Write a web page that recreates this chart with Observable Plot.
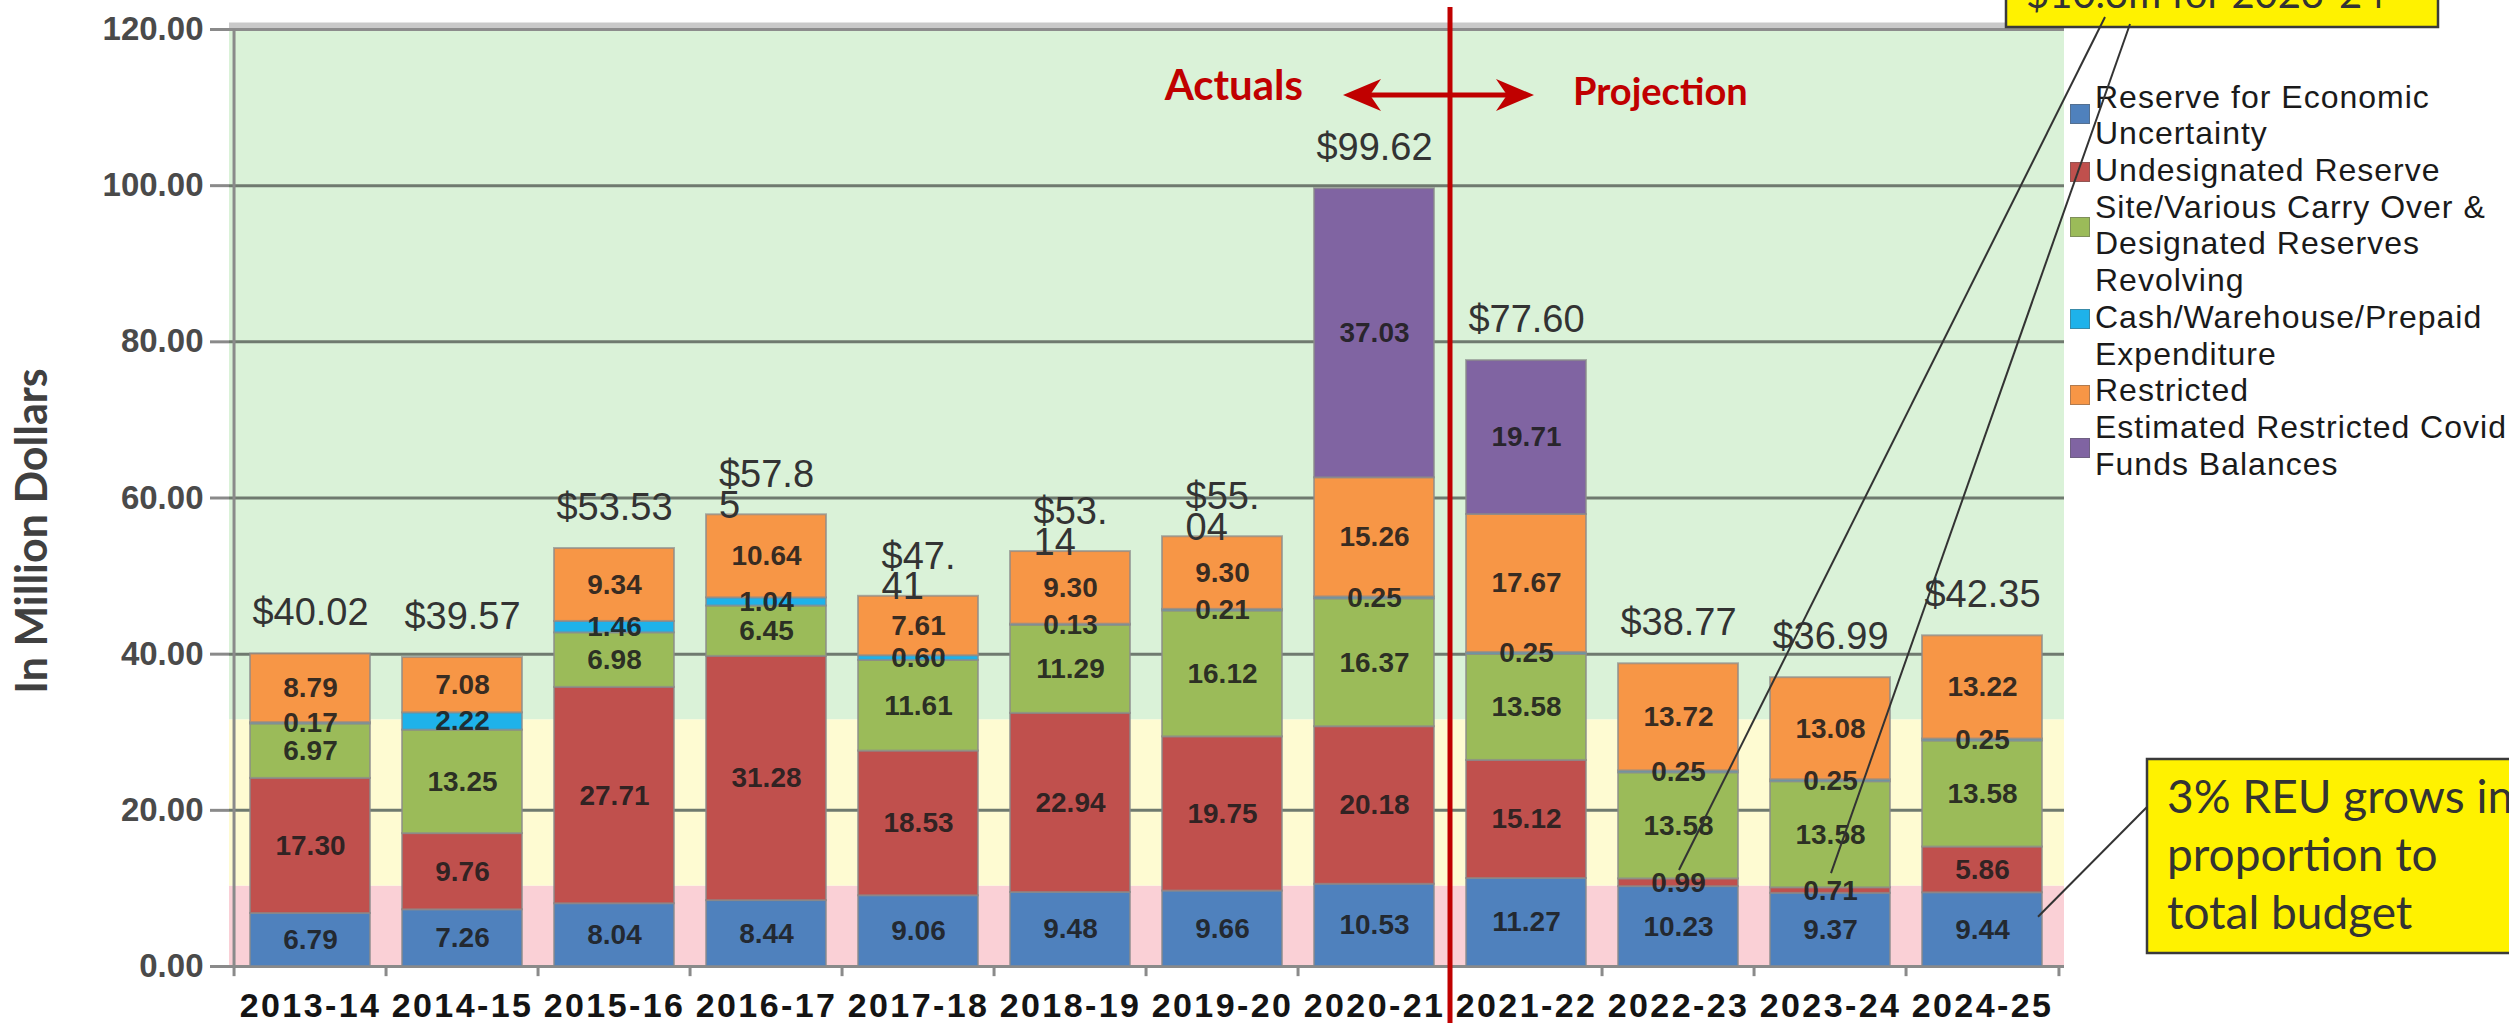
<!DOCTYPE html>
<html><head><meta charset="utf-8">
<script src="https://cdn.jsdelivr.net/npm/d3@7"></script>
<script src="https://cdn.jsdelivr.net/npm/@observablehq/plot@0.6"></script>
<style>
html,body{margin:0;padding:0;background:#fff;overflow:hidden}
#wrap{position:relative;width:2509px;height:1023px;overflow:hidden}
#wrap > svg{position:absolute;left:0;top:0}
#legend{position:absolute;left:0;top:0;width:2509px;height:1023px;font-family:"Liberation Sans",Arial,sans-serif;font-size:32px;line-height:36.7px;color:#1a1a1a;letter-spacing:1px;white-space:nowrap}
#legend .sw{position:absolute;width:20px;height:20px;box-sizing:border-box;border:1px solid rgba(90,90,90,.45)}
#legend .tx{position:absolute;left:2095px}
</style></head><body><div id="wrap"></div>
<script>
// ---------- data ----------
const years = ["2013-14","2014-15","2015-16","2016-17","2017-18","2018-19","2019-20","2020-21","2021-22","2022-23","2023-24","2024-25"];
const seriesNames = ["Reserve for Economic Uncertainty","Undesignated Reserve","Site/Various Carry Over & Designated Reserves Revolving","Cash/Warehouse/Prepaid Expenditure","Restricted","Estimated Restricted Covid Funds Balances"];
const reu          = [6.79, 7.26, 8.04, 8.44, 9.06, 9.48, 9.66, 10.53, 11.27, 10.23, 9.37, 9.44];
const undesignated = [17.30, 9.76, 27.71, 31.28, 18.53, 22.94, 19.75, 20.18, 15.12, 0.99, 0.71, 5.86];
const siteCarry    = [6.97, 13.25, 6.98, 6.45, 11.61, 11.29, 16.12, 16.37, 13.58, 13.58, 13.58, 13.58];
const cashWarehouse= [0.17, 2.22, 1.46, 1.04, 0.60, 0.13, 0.21, 0.25, 0.25, 0.25, 0.25, 0.25];
const restricted   = [8.79, 7.08, 9.34, 10.64, 7.61, 9.30, 9.30, 15.26, 17.67, 13.72, 13.08, 13.22];
const covid        = [0, 0, 0, 0, 0, 0, 0, 37.03, 19.71, 0, 0, 0];
const totals       = [40.02, 39.57, 53.53, 57.85, 47.41, 53.14, 55.04, 99.62, 77.60, 38.77, 36.99, 42.35];
const totalLabels  = ["$40.02","$39.57","$53.53","$57.8\n5","$47.\n41","$53.\n14","$55.\n04","$99.62","$77.60","$38.77","$36.99","$42.35"];
const yTicks = [0, 20, 40, 60, 80, 100, 120];
const zoneEdges = [0, 10.3, 31.6, 120];
const legendLines = [["Reserve for Economic","Uncertainty"],["Undesignated Reserve"],["Site/Various Carry Over &","Designated Reserves","Revolving"],["Cash/Warehouse/Prepaid","Expenditure"],["Restricted"],["Estimated Restricted Covid","Funds Balances"]];
const dividerBetween = ["2020-21","2021-22"];
const leftNote = "Actuals", rightNote = "Projection";
const yTitle = "In Million Dollars";
const boxNoteBottom = ["3% REU grows in","proportion to","total budget"];
const boxNoteTop = "$10.3m for 2023-24";
const bottomNoteTarget = {year:"2024-25", value:6.3};
const topNoteTargets = [{year:"2022-23", value:12.3},{year:"2023-24", value:11.9}];

// ---------- styling ----------
const colors = ["#4f81bd","#c0504d","#9bbb59","#1eb2ea","#f79646","#8064a2"];
const zoneColors = ["#fad0d6","#fefbd2","#daf2d8"];
const W = 2509, H = 1023, ML = 229, MR = 445, MT = 29, MB = 57;
const PI = 0.21, PO = PI/2;
const step = (W - ML - MR) / years.length;

const seriesValues = [reu, undesignated, siteCarry, cashWarehouse, restricted, covid];
const long = [];
years.forEach((yr, i) => seriesValues.forEach((arr, s) => {
  if (arr[i] > 0) long.push({year: yr, series: seriesNames[s], value: arr[i]});
}));
const totData = years.map((yr, i) => ({year: yr, total: totals[i], label: totalLabels[i]}));

const ctx = document.createElement("canvas").getContext("2d");
ctx.font = "38px 'Liberation Sans'";

const zoneMarks = zoneColors.map((c, i) =>
  Plot.rect([zoneEdges[i]], {y1: d => d, y2: () => zoneEdges[i+1], fill: c}));

const wrappedMarks = totData.filter(d => d.label.includes("\n")).map(d =>
  Plot.text([d], {x: "year", y: "total", text: "label", textAnchor: "start", lineAnchor: "top",
    dx: -ctx.measureText(d.label.split("\n")[0]).width/2, dy: -49, lineHeight: 0.8,
    fontSize: 38, fill: "#333"}));

const plot = Plot.plot({
  width: W, height: H, marginLeft: ML, marginRight: MR, marginTop: MT, marginBottom: MB,
  style: {fontFamily: "'Liberation Sans', Arial, sans-serif", background: "transparent", overflow: "visible"},
  x: {domain: years, paddingInner: PI, paddingOuter: PO},
  y: {domain: [0, 120]},
  color: {domain: seriesNames, range: colors},
  marks: [
    ...zoneMarks,
    Plot.ruleY(yTicks.filter(t => t > 0 && t < 120), {stroke: "#6f7a6f", strokeWidth: 3}),
    Plot.ruleY([120], {stroke: "#c9c9c9", strokeWidth: 8, dy: -3}),
    Plot.ruleY([120], {stroke: "#8c8c8c", strokeWidth: 3}),
    Plot.ruleX([years[0]], {dx: -step/2, y1: 0, y2: 120, stroke: "#8a8a8a", strokeWidth: 3}),
    Plot.ruleY([0], {stroke: "#8a8a8a", strokeWidth: 3}),
    Plot.ruleX(years, {dx: -step/2, y1: 0, y2: -1.3, stroke: "#8a8a8a", strokeWidth: 3}),
    Plot.ruleX([years[years.length-1]], {dx: step/2, y1: 0, y2: -1.3, stroke: "#8a8a8a", strokeWidth: 3}),
    Plot.barY(long, Plot.stackY({x: "year", y: "value", fill: "series", order: seriesNames,
      stroke: "#8a8a8a", strokeOpacity: 0.7, strokeWidth: 2})),
    Plot.text(long, Plot.stackY({x: "year", y: "value", z: "series", order: seriesNames,
      text: d => d.value.toFixed(2), fontSize: 28, fontWeight: "bold", fill: "#1d1d1d", fillOpacity: 0.9,
      ariaLabel: "segment labels"})),
    Plot.text(totData.filter(d => !d.label.includes("\n")), {x: "year", y: "total", text: "label",
      lineAnchor: "bottom", dy: -29, fontSize: 38, fill: "#333"}),
    ...wrappedMarks,
    Plot.axisY(yTicks, {tickFormat: d => d.toFixed(2), tickSize: 19, tickPadding: 7, fontSize: 33,
      fontWeight: "bold", fill: "#4a4a4a", stroke: "#8a8a8a", strokeWidth: 3, label: null}),
    Plot.axisX({tickSize: 0, tickPadding: 26, fontSize: 34, fontWeight: "bold", fill: "#141414", label: null})
  ]
});

const wrap = document.getElementById("wrap");
wrap.appendChild(plot);
d3.select(plot).selectAll('g[aria-label="segment labels"] text').style("letter-spacing", "2px");
d3.select(plot).selectAll('g[aria-label="x-axis tick label"] text').style("letter-spacing", "2.4px");

// ---------- legend ----------
const legend = document.createElement("div");
legend.id = "legend";
const swatchY = [114, 172, 227, 319, 395, 448];
let line = 0;
legendLines.forEach((lines, i) => {
  const sw = document.createElement("div");
  sw.className = "sw";
  sw.style.left = "2070px"; sw.style.top = (swatchY[i] - 10) + "px"; sw.style.background = colors[i];
  legend.appendChild(sw);
  lines.forEach(t => {
    const tx = document.createElement("div");
    tx.className = "tx";
    tx.style.top = (78.6 + line * 36.7) + "px";
    tx.textContent = t;
    legend.appendChild(tx);
    line++;
  });
});
wrap.appendChild(legend);

// ---------- annotations overlay ----------
const xs = plot.scale("x"), ys = plot.scale("y");
const cx = v => xs.apply(v) + xs.bandwidth/2;
const lineX = (cx(dividerBetween[0]) + cx(dividerBetween[1])) / 2;
const ov = d3.select(wrap).append("svg").attr("width", W).attr("height", H)
  .style("position","absolute").style("left",0).style("top",0);

// y title
ov.append("text").attr("transform", "translate(30,531) rotate(-90)")
  .attr("text-anchor","middle").attr("dominant-baseline","central")
  .style("font-family","Lato, 'Open Sans', sans-serif").style("font-weight","bold").style("font-size","43px")
  .attr("fill","#404040").text(yTitle);

// divider
const red = "#c00000";
ov.append("line").attr("x1", lineX).attr("x2", lineX).attr("y1", 7).attr("y2", H)
  .attr("stroke", red).attr("stroke-width", 5);
const ay = 95, ax0 = lineX - 107, ax1 = lineX + 84;
ov.append("line").attr("x1", ax0 + 20).attr("x2", ax1 - 20).attr("y1", ay).attr("y2", ay)
  .attr("stroke", red).attr("stroke-width", 5);
ov.append("polygon").attr("points", `${ax0},${ay} ${ax0+38},${ay-16} ${ax0+27},${ay} ${ax0+38},${ay+16}`).attr("fill", red);
ov.append("polygon").attr("points", `${ax1},${ay} ${ax1-38},${ay-16} ${ax1-27},${ay} ${ax1-38},${ay+16}`).attr("fill", red);
ov.append("text").attr("x", lineX - 147).attr("y", 100).attr("text-anchor","end")
  .style("font-family","Lato, sans-serif").style("font-weight","bold").style("font-size","42px")
  .attr("fill", red).text(leftNote);
ov.append("text").attr("x", lineX + 123).attr("y", 105)
  .style("font-family","Lato, sans-serif").style("font-weight","bold").style("font-size","38px")
  .attr("fill", red).text(rightNote);

// bottom-right yellow box
ov.append("rect").attr("x", 2147).attr("y", 759).attr("width", 420).attr("height", 194)
  .attr("fill", "#fff200").attr("stroke", "#3a3a3a").attr("stroke-width", 2.5);
boxNoteBottom.forEach((t, i) => ov.append("text").attr("x", 2167).attr("y", 813 + i*58)
  .style("font-family","Lato, sans-serif").style("font-size","46px").attr("fill","#333").text(t));
ov.append("line").attr("x1", 2147).attr("y1", 807)
  .attr("x2", xs.apply(bottomNoteTarget.year) + xs.bandwidth - 4).attr("y2", ys.apply(bottomNoteTarget.value))
  .attr("stroke", "#333").attr("stroke-width", 2);

// top yellow box (cut off)
ov.append("rect").attr("x", 2006).attr("y", -60).attr("width", 432).attr("height", 87)
  .attr("fill", "#fff200").attr("stroke", "#3a3a3a").attr("stroke-width", 2.5);
ov.append("text").attr("x", 2026).attr("y", 8)
  .style("font-family","Lato, sans-serif").style("font-size","40px").attr("fill","#333").text(boxNoteTop);
const starts = [[2105, 17], [2130, 24]];
topNoteTargets.forEach((t, i) => ov.append("line").attr("x1", starts[i][0]).attr("y1", starts[i][1])
  .attr("x2", cx(t.year) + 1).attr("y2", ys.apply(t.value)).attr("stroke", "#333").attr("stroke-width", 2));
</script></body></html>
